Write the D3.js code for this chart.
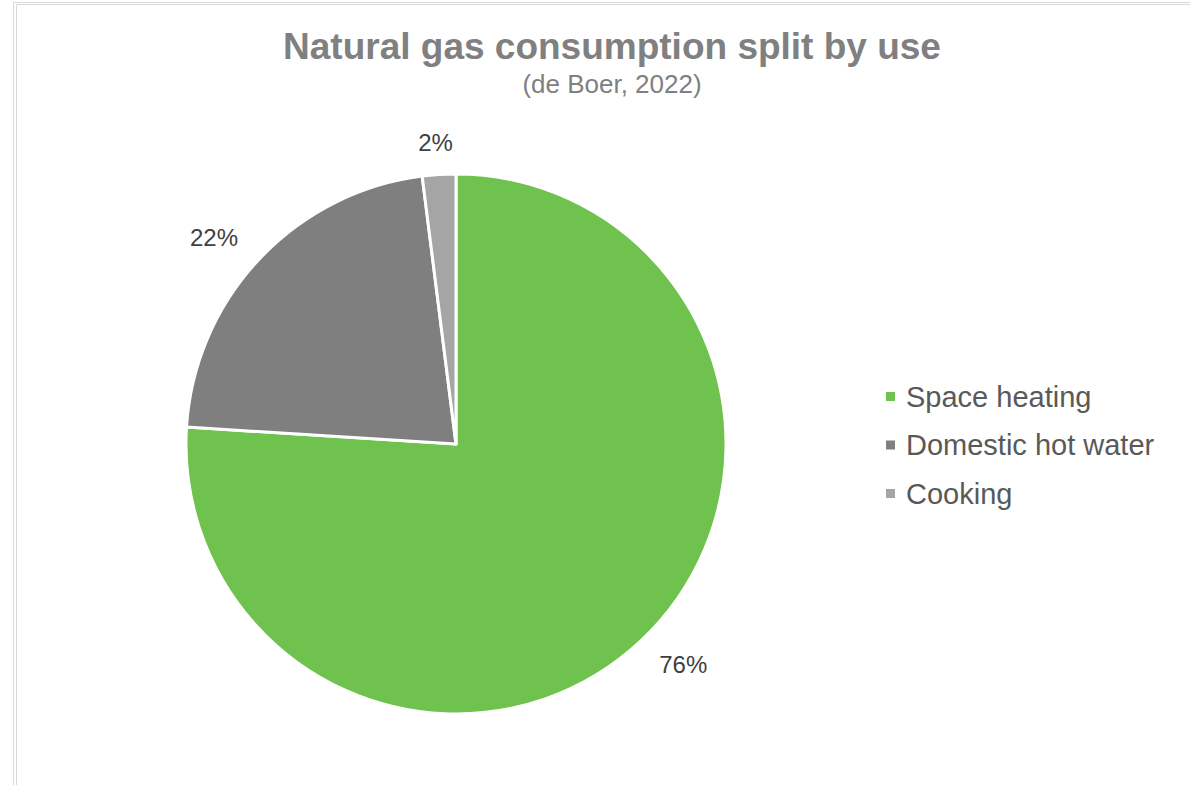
<!DOCTYPE html>
<html>
<head>
<meta charset="utf-8">
<script src="https://cdn.jsdelivr.net/npm/d3@7"></script>
<style>
  html, body { margin: 0; padding: 0; background: #ffffff; }
  svg { display: block; font-family: "Liberation Sans", Arial, sans-serif; }
</style>
</head>
<body>
<svg id="chart" width="1190" height="785"></svg>
<script>
// Share of household natural gas use, by end use (percent)
const categories = ["Space heating", "Domestic hot water", "Cooking"];
const shares = [76, 22, 2];
const sliceColors = ["#6fc24d", "#7f7f7f", "#a5a5a5"];
const titleText = "Natural gas consumption split by use";
const subtitleText = "(de Boer, 2022)";

const svg = d3.select("#chart");
const W = 1190, H = 785;

// Frame lines around the chart area
const frame = svg.append("g").attr("stroke", "#d9d9d9").attr("stroke-width", 1).attr("fill", "none");
frame.append("path").attr("d", `M13.5,${H} V2.5 H${W}`);
frame.append("path").attr("d", `M16.5,${H} V4.5 H${W}`);

// Titles
svg.append("text")
  .attr("x", 612).attr("y", 59)
  .attr("text-anchor", "middle")
  .attr("font-size", 37).attr("font-weight", "bold")
  .attr("fill", "#808080")
  .text(titleText);
svg.append("text")
  .attr("x", 612).attr("y", 93)
  .attr("text-anchor", "middle")
  .attr("font-size", 26)
  .attr("fill", "#808080")
  .text(subtitleText);

// Pie
const cx = 456, cy = 444, R = 270;
const data = categories.map((c, i) => ({ name: c, value: shares[i], color: sliceColors[i] }));
const pie = d3.pie().value(d => d.value).sort(null);
const arc = d3.arc().innerRadius(0).outerRadius(R);
const arcs = pie(data);

const g = svg.append("g").attr("transform", `translate(${cx},${cy})`);
g.selectAll("path.slice")
  .data(arcs)
  .join("path")
  .attr("class", "slice")
  .attr("d", arc)
  .attr("fill", d => d.data.color)
  .attr("stroke", "#ffffff")
  .attr("stroke-width", 3)
  .attr("stroke-linejoin", "round");

// Data labels placed just outside each slice
const labelFont = 24;
const gapX = 38, gapY = 22;
g.selectAll("text.label")
  .data(arcs)
  .join("text")
  .attr("class", "label")
  .attr("font-size", labelFont)
  .attr("fill", "#404040")
  .attr("text-anchor", "middle")
  .attr("dominant-baseline", "central")
  .text(d => d3.format(".0f")(d.data.value) + "%")
  .each(function(d) {
    const a = (d.startAngle + d.endAngle) / 2;
    const dx = Math.sin(a), dy = -Math.cos(a);
    const w = this.getComputedTextLength();
    const h = labelFont * 0.85;
    const x = dx * (R + gapX) + dx * w / 2;
    const y = dy * (R + gapY) + dy * h / 2;
    d3.select(this).attr("x", x).attr("y", y);
  });

// Legend
const legendY = d3.scalePoint().domain(categories).range([396.5, 493.5]);
const legend = svg.append("g");
const items = legend.selectAll("g.item")
  .data(data)
  .join("g")
  .attr("class", "item")
  .attr("transform", d => `translate(886,${legendY(d.name)})`);
items.append("rect")
  .attr("x", 0).attr("y", -4.5)
  .attr("width", 9).attr("height", 9)
  .attr("fill", d => d.color);
items.append("text")
  .attr("x", 20).attr("y", 0)
  .attr("dominant-baseline", "central")
  .attr("font-size", 29)
  .attr("fill", "#595959")
  .text(d => d.name);
</script>
</body>
</html>
